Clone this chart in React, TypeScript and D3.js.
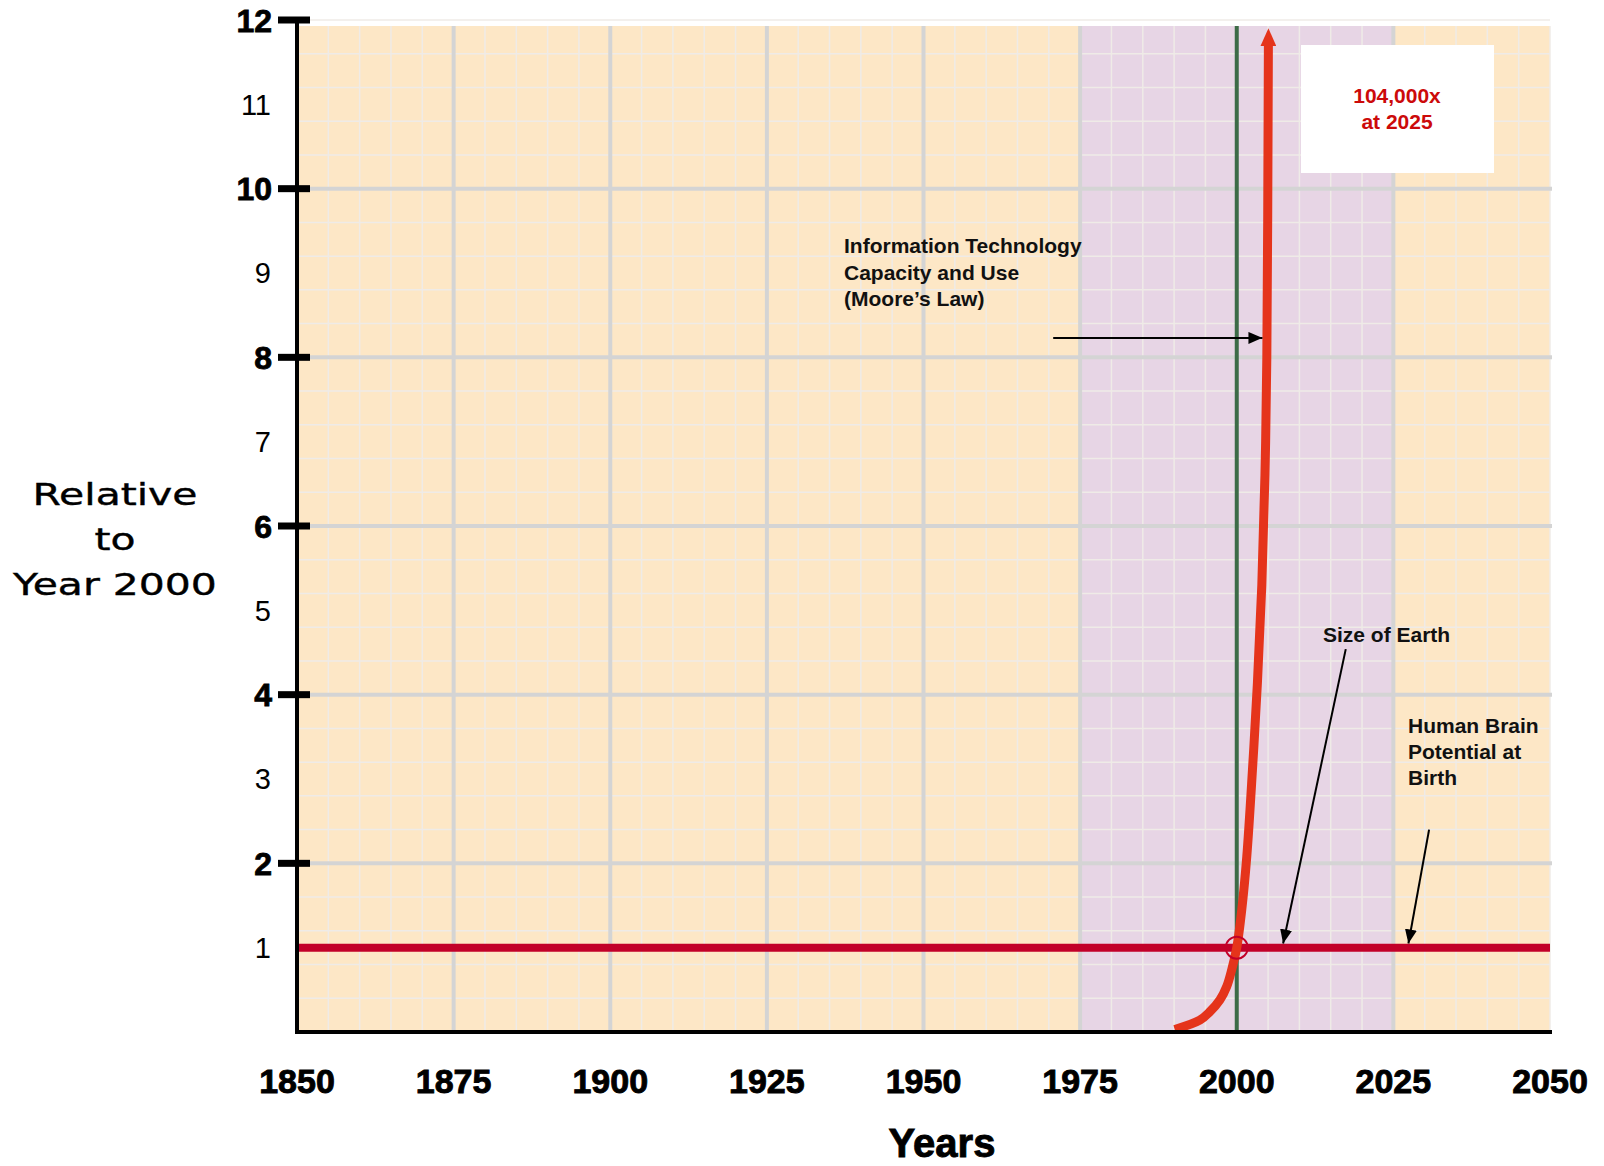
import React from "react";
import * as d3 from "d3";

// ---- data ----
const xTickYears = [1850, 1875, 1900, 1925, 1950, 1975, 2000, 2025, 2050];
const yTickValues = [1, 2, 3, 4, 5, 6, 7, 8, 9, 10, 11, 12];
const mooreYears = [1990.1, 1994.1, 1995.7, 1997.3, 1998.4, 1999.2, 2000.0, 2000.8, 2001.6, 2002.5, 2003.3, 2004.0, 2004.5, 2004.8, 2005.05];
const mooreValues = [0.03, 0.14, 0.24, 0.38, 0.54, 0.74, 1.0, 1.45, 2.08, 3.1, 4.14, 5.3, 6.6, 8.0, 11.7];
const baselineValue = 1; // Size of Earth / Human Brain Potential at Birth
const referenceYear = 2000;
const bandYears = [1975, 2025];
const callout = ["104,000x", "at 2025"];
const mooreLabel = ["Information Technology", "Capacity and Use", "(Moore\u2019s Law)"];
const earthLabel = ["Size of Earth"];
const brainLabel = ["Human Brain", "Potential at", "Birth"];
const yTitle = ["Relative", "to", "Year 2000"];

const W = 1604;
const H = 1166;
const x = d3.scaleLinear().domain([1850, 2050]).range([297, 1550]);
const y = d3.scaleLinear().domain([0, 12]).range([1032, 20]);

const PEACH = "#fde7c6";
const PURPLE = "#e7d5e5";
const MAJOR = "#d4d4d4";
const MINOR = "#efebe7";
const CRIMSON = "#c20029";
const ORANGE_RED = "#e5341b";
const FONT = "'Liberation Sans', Arial, Helvetica, sans-serif";

export default function App() {
  const top = 26;
  const minorX = d3.range(1850, 2050.1, 5);
  const minorY = d3.range(0, 12.01, 0.4);
  const majorX = xTickYears.filter((v) => v > 1850 && v < 2050 && v !== referenceYear);
  const majorY = yTickValues.filter((v) => v % 2 === 0 && v < 12);

  const line = d3
    .line<number>()
    .x((_, i) => x(mooreYears[i]))
    .y((_, i) => y(mooreValues[i]))
    .curve(d3.curveCatmullRom.alpha(0.5));

  return (
    <svg
      width={W}
      height={H}
      viewBox={`0 0 ${W} ${H}`}
      style={{ position: "absolute", left: 0, top: 0, background: "#fff" }}
      fontFamily={FONT}
    >
      <defs>
        <marker id="blackHead" markerUnits="userSpaceOnUse" viewBox="0 -6 14 12" refX="14" refY="0" markerWidth="14" markerHeight="12" orient="auto">
          <path d="M0,-6 L14,0 L0,6 Z" fill="#000" />
        </marker>
        <marker id="redHead" markerUnits="userSpaceOnUse" viewBox="0 -8 18 16" refX="1" refY="0" markerWidth="18" markerHeight="16" orient="auto">
          <path d="M0,-8 L18,0 L0,8 Z" fill={ORANGE_RED} />
        </marker>
      </defs>

      {/* background */}
      <rect x={x(1850)} y={top} width={x(2050) - x(1850)} height={y(0) - top} fill={PEACH} />
      <rect x={x(bandYears[0])} y={top} width={x(bandYears[1]) - x(bandYears[0])} height={y(0) - top} fill={PURPLE} />

      {/* minor grid */}
      {minorX.map((v) => (
        <line key={"mx" + v} x1={x(v)} x2={x(v)} y1={top} y2={y(0)} stroke={MINOR} strokeWidth={1.5} />
      ))}
      {minorY.map((v) => (
        <line key={"my" + v} x1={x(1850)} x2={x(2050)} y1={y(v)} y2={y(v)} stroke={MINOR} strokeWidth={1.5} />
      ))}

      {/* major grid */}
      {majorX.map((v) => (
        <line key={"Mx" + v} x1={x(v)} x2={x(v)} y1={top} y2={y(0)} stroke={MAJOR} strokeWidth={4} />
      ))}
      {majorY.map((v) => (
        <line key={"My" + v} x1={x(1850)} x2={x(2050) + 2} y1={y(v)} y2={y(v)} stroke={MAJOR} strokeWidth={4} />
      ))}

      {/* reference year line */}
      <line x1={x(referenceYear)} x2={x(referenceYear)} y1={top} y2={y(0)} stroke="#3d6b47" strokeWidth={4} />

      {/* baseline at 1 */}
      <line x1={x(1850)} x2={x(2050)} y1={y(baselineValue)} y2={y(baselineValue)} stroke={CRIMSON} strokeWidth={8} />

      {/* Moore's law curve */}
      <path d={line(mooreValues) || ""} fill="none" stroke={ORANGE_RED} strokeWidth={9} markerEnd="url(#redHead)" />

      {/* intersection circle */}
      <circle cx={x(referenceYear)} cy={y(baselineValue)} r={11} fill="none" stroke={CRIMSON} strokeWidth={2} />

      {/* axes */}
      <line x1={x(1850)} x2={x(1850)} y1={y(12)} y2={y(0) + 2} stroke="#000" strokeWidth={4} />
      <line x1={x(1850) - 2} x2={x(2050) + 2} y1={y(0)} y2={y(0)} stroke="#000" strokeWidth={4} />

      {/* y ticks & labels */}
      {yTickValues.map((v) => {
        const even = v % 2 === 0;
        return (
          <g key={"yt" + v}>
            {even && <line x1={278} x2={310} y1={y(v)} y2={y(v)} stroke="#000" strokeWidth={7} />}
            <text
              x={even ? 272 : 271}
              y={y(v)}
              dy="0.36em"
              textAnchor="end"
              fontSize={even ? 32 : 29}
              fontWeight={even ? 700 : 400}
              stroke={even ? "#000" : "none"}
              strokeWidth={even ? 0.8 : 0}
              fill="#000"
            >
              {v}
            </text>
          </g>
        );
      })}

      {/* x labels */}
      {xTickYears.map((v) => (
        <text key={"xt" + v} x={x(v)} y={1093} textAnchor="middle" fontSize={34} fontWeight={700} stroke="#000" strokeWidth={0.9} fill="#000">
          {v}
        </text>
      ))}

      {/* axis titles */}
      <text x={942} y={1157} textAnchor="middle" fontSize={40} fontWeight={700} stroke="#000" strokeWidth={0.9}>
        Years
      </text>
      {yTitle.map((t, i) => (
        <text
          key={"yt" + i}
          transform={`translate(115, ${505 + i * 45}) scale(1.32, 1)`}
          textAnchor="middle"
          fontSize={31}
          fontFamily="'DejaVu Sans', Verdana, sans-serif"
          stroke="#000"
          strokeWidth={0.4}
          fill="#000"
        >
          {t}
        </text>
      ))}

      {/* callout box */}
      <rect x={1301} y={45} width={193} height={128} fill="#fff" />
      {callout.map((t, i) => (
        <text key={"c" + i} x={1397} y={103 + i * 26} textAnchor="middle" fontSize={21} fontWeight={700} fill="#cc0a0a">
          {t}
        </text>
      ))}

      {/* annotations */}
      {mooreLabel.map((t, i) => (
        <text key={"m" + i} x={844} y={253 + i * 26.5} fontSize={21} fontWeight={700} fill="#111">
          {t}
        </text>
      ))}
      <line x1={x(1970.7)} x2={x(2004.1)} y1={y(8.23)} y2={y(8.23)} stroke="#000" strokeWidth={2} markerEnd="url(#blackHead)" />

      {earthLabel.map((t, i) => (
        <text key={"e" + i} x={1323} y={642} fontSize={21} fontWeight={700} fill="#111">
          {t}
        </text>
      ))}
      <line x1={x(2017.4)} y1={y(4.54)} x2={x(2007.4)} y2={y(1.05)} stroke="#000" strokeWidth={2} markerEnd="url(#blackHead)" />

      {brainLabel.map((t, i) => (
        <text key={"b" + i} x={1408} y={733 + i * 26} fontSize={21} fontWeight={700} fill="#111">
          {t}
        </text>
      ))}
      <line x1={x(2030.7)} y1={y(2.4)} x2={x(2027.4)} y2={y(1.05)} stroke="#000" strokeWidth={2} markerEnd="url(#blackHead)" />
    </svg>
  );
}
